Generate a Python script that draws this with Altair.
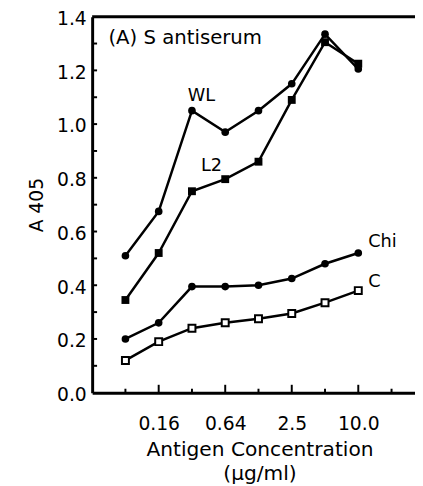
import altair as alt
import pandas as pd

# Antigen concentrations (ug/ml), two-fold dilutions
conc = [0.078125, 0.15625, 0.3125, 0.625, 1.25, 2.5, 5.0, 10.0]
wl = [0.51, 0.675, 1.05, 0.97, 1.05, 1.15, 1.335, 1.205]
l2 = [0.345, 0.52, 0.75, 0.795, 0.86, 1.09, 1.305, 1.225]
chi = [0.20, 0.26, 0.395, 0.395, 0.40, 0.425, 0.48, 0.52]
c_ser = [0.12, 0.19, 0.24, 0.26, 0.275, 0.295, 0.335, 0.38]

x_label_vals = [0.15625, 0.625, 2.5, 10.0]
x_minor_ticks = [0.078125, 0.3125, 1.25, 5.0, 20.0]
y_label_vals = [0.0, 0.2, 0.4, 0.6, 0.8, 1.0, 1.2, 1.4]
y_ticks = [0.1, 0.2, 0.3, 0.4, 0.5, 0.6, 0.7, 0.8, 0.9, 1.0, 1.1, 1.2, 1.3]

x_dom = [0.0390625, 32.6]
y_dom = [0.0, 1.4]
W, H = 328, 382
FONT = "DejaVu Sans"

rows = []
for name, vals in [("WL", wl), ("L2", l2), ("Chi", chi), ("C", c_ser)]:
    for x, v in zip(conc, vals):
        rows.append({"series": name, "conc": x, "value": v})
df = pd.DataFrame(rows)

xs = alt.Scale(type="log", domain=x_dom, nice=False)
ys = alt.Scale(domain=y_dom, nice=False, zero=False)

x_title = ["Antigen Concentration", "(µg/ml)"]
x_axis = alt.Axis(
    values=x_label_vals, ticks=False, grid=False, domainWidth=3, domainColor="black",
    labelFont=FONT, labelFontSize=19, labelColor="black", labelPadding=22,
    labelExpr="datum.value < 0.2 ? '0.16' : datum.value < 1 ? '0.64' : datum.value < 5 ? '2.5' : '10.0'",
    title=x_title, titleFont=FONT, titleFontSize=20.5,
    titleFontWeight="normal", titleColor="black", titlePadding=7, titleLineHeight=24,
    titleX=170, titleAnchor="middle",
)
y_axis = alt.Axis(
    values=y_label_vals, format=".1f", ticks=False, grid=False, domainWidth=3,
    domainColor="black", labelFont=FONT, labelFontSize=19, labelColor="black",
    labelPadding=6, labelOffset=2, title="A 405", titleFont=FONT, titleFontSize=19,
    titleFontWeight="normal", titleColor="black", titlePadding=10,
)

X = alt.X("conc:Q", scale=xs, axis=x_axis, title=x_title)
Y = alt.Y("value:Q", scale=ys, axis=y_axis, title="A 405")

base = alt.Chart(df).encode(x=X, y=Y)
lines = base.mark_line(color="black", strokeWidth=2.5).encode(detail="series:N")
circles = base.transform_filter(
    alt.FieldOneOfPredicate(field="series", oneOf=["WL", "Chi"])
).mark_point(shape="circle", filled=True, size=60, color="black", opacity=1)
fsq = base.transform_filter(alt.datum.series == "L2").mark_square(size=64, color="black", opacity=1)
osq = base.transform_filter(alt.datum.series == "C").mark_square(
    size=50, fill="white", stroke="black", strokeWidth=2, opacity=1
)

top = alt.Chart(pd.DataFrame({"value": [y_dom[1]]})).mark_rule(color="black", strokeWidth=3).encode(y=Y)
yt = alt.Chart(pd.DataFrame({"value": y_ticks})).mark_rule(color="black", strokeWidth=2).encode(
    y=Y, x=alt.value(0), x2=alt.value(5)
)
xt_major = alt.Chart(pd.DataFrame({"conc": x_label_vals})).mark_rule(color="black", strokeWidth=2).encode(
    x=X, y=alt.value(H), y2=alt.value(H - 8)
)
xt_minor = alt.Chart(pd.DataFrame({"conc": x_minor_ticks})).mark_rule(color="black", strokeWidth=2).encode(
    x=X, y=alt.value(H), y2=alt.value(H - 4)
)

ann_center = pd.DataFrame({"t": ["WL", "L2"], "conc": [0.38, 0.47], "value": [1.105, 0.845]})
ann_left = pd.DataFrame({"t": ["Chi", "C"], "conc": [12.3, 12.3], "value": [0.56, 0.41]})
ann_title = pd.DataFrame({"t": ["(A)  S antiserum"], "conc": [0.0548], "value": [1.322]})

t_center = alt.Chart(ann_center).mark_text(font=FONT, fontSize=18, color="black", align="center", baseline="middle").encode(
    x=X, y=Y, text="t:N"
)
t_left = alt.Chart(ann_left).mark_text(font=FONT, fontSize=18, color="black", align="left", baseline="middle").encode(
    x=X, y=Y, text="t:N"
)
t_title = alt.Chart(ann_title).mark_text(font=FONT, fontSize=20, color="black", align="left", baseline="middle").encode(
    x=X, y=Y, text="t:N"
)

chart = alt.layer(
    lines, circles, fsq, osq, top, yt, xt_major, xt_minor, t_center, t_left, t_title
).properties(
    width=W, height=H,
    autosize=alt.AutoSizeParams(type="none"),
    padding={"left": 85.5, "top": 5, "right": 0, "bottom": 90},
).configure(background="white", view=alt.ViewConfig(stroke=None))

chart.save("out.html", embed_options={"renderer": "svg", "actions": False})
